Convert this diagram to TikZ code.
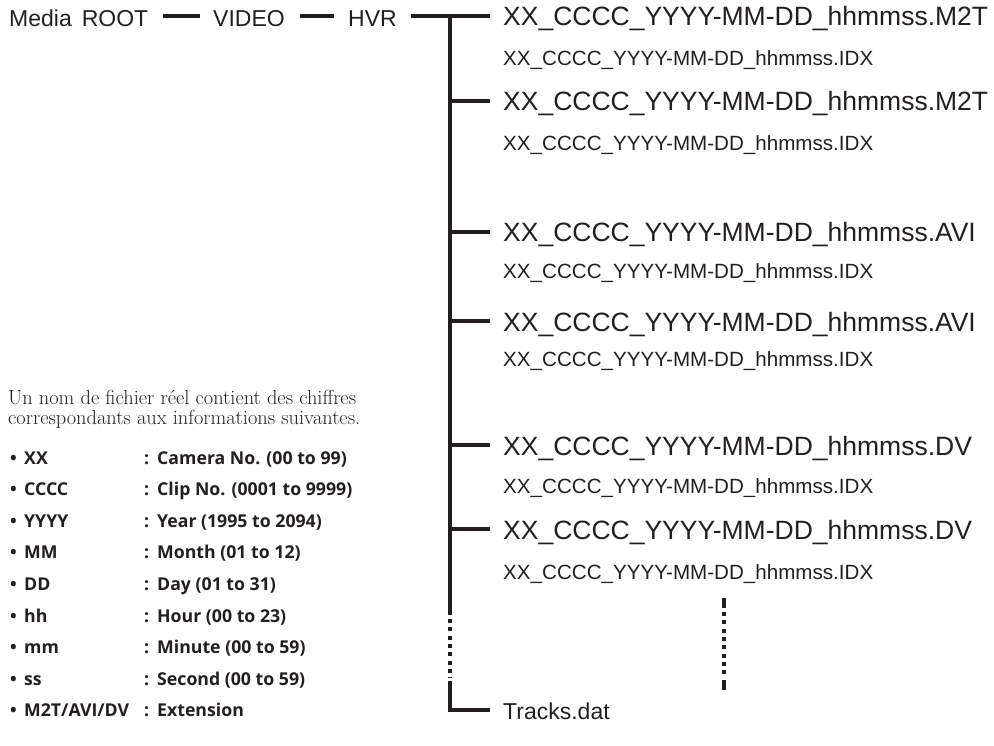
\documentclass[tikz,border=0pt]{standalone}
\usepackage{fontspec}
\newfontfamily\arialf{Liberation Sans}
\newfontfamily\listf{Open Sans}
\usetikzlibrary{calc}
\definecolor{ink}{HTML}{231F20}
\begin{document}
\begin{tikzpicture}[x=1pt,y=-1pt,
  lbl/.style={inner sep=0pt, anchor=base west, text=ink},
  toplbl/.style={lbl, font=\arialf\fontsize{23}{27}\selectfont},
  bigfile/.style={lbl, font=\arialf\fontsize{26.5}{30}\selectfont},
  smallfile/.style={lbl, font=\arialf\fontsize{20.6}{24}\selectfont},
  introtxt/.style={lbl, font=\rmfamily\fontsize{20.4}{22}\selectfont},
  listtxt/.style={lbl, font=\listf\bfseries\fontsize{17.7}{20}\selectfont},
  treeline/.style={line width=3.6pt, draw=ink},
  dashline/.style={line width=3.2pt, draw=ink},
  dotline/.style={line width=3.6pt, draw=ink, dash pattern=on 4pt off 4.3pt}]
\useasboundingbox (0,0) rectangle (994,746);

% top path
\node[toplbl] (root) at (9,27) {Media\hspace{10pt}ROOT};
\node[toplbl] (video) at (213,27) {VIDEO};
\node[toplbl] (hvr) at (348,27) {HVR};
\draw[dashline] ($(root.base east)+(15,-11)$) -- ($(video.base west)+(-13,-11)$);
\draw[dashline] ($(video.base east)+(15,-11)$) -- ($(hvr.base west)+(-14,-11)$);

% files
\node[bigfile]   (f1) at (503,26)  {XX\_CCCC\_YYYY-MM-DD\_hhmmss.M2T};
\node[smallfile] (i1) at (503,66)  {XX\_CCCC\_YYYY-MM-DD\_hhmmss.IDX};
\node[bigfile]   (f2) at (503,111) {XX\_CCCC\_YYYY-MM-DD\_hhmmss.M2T};
\node[smallfile] (i2) at (503,151) {XX\_CCCC\_YYYY-MM-DD\_hhmmss.IDX};
\node[bigfile]   (f3) at (503,242) {XX\_CCCC\_YYYY-MM-DD\_hhmmss.AVI};
\node[smallfile] (i3) at (503,279) {XX\_CCCC\_YYYY-MM-DD\_hhmmss.IDX};
\node[bigfile]   (f4) at (503,331) {XX\_CCCC\_YYYY-MM-DD\_hhmmss.AVI};
\node[smallfile] (i4) at (503,366) {XX\_CCCC\_YYYY-MM-DD\_hhmmss.IDX};
\node[bigfile]   (f5) at (503,455) {XX\_CCCC\_YYYY-MM-DD\_hhmmss.DV};
\node[smallfile] (i5) at (503,493) {XX\_CCCC\_YYYY-MM-DD\_hhmmss.IDX};
\node[bigfile]   (f6) at (503,539) {XX\_CCCC\_YYYY-MM-DD\_hhmmss.DV};
\node[smallfile] (i6) at (503,579) {XX\_CCCC\_YYYY-MM-DD\_hhmmss.IDX};
\node[toplbl]    (tracks) at (503,719) {Tracks.dat};

% tree
\coordinate (j) at (450,16);
\coordinate (dA) at (450,615);
\coordinate (dB) at (450,681);
\draw[treeline] ($(hvr.base east)+(14,-11)$) -- ($(f1.base west)+(-13,-10)$);
\draw[treeline] (j) -- (dA);
\draw[dotline] (450,619) -- (450,678);
\foreach \n in {f2,f3,f4,f5,f6}{
  \path ($(\n.base west)+(-13,-10)$) coordinate (s\n);
  \draw[treeline] (s\n) -- (s\n -| j);
}
\path ($(tracks.base west)+(-13,-9)$) coordinate (st);
\draw[treeline, line join=miter] (dB) -- (st -| j) -- (st);

% continuation marks
\coordinate (rA) at (724,598);
\coordinate (rB) at (724,690);
\draw[treeline] (rA) -- (724,608);
\draw[dotline] (724,612) -- (724,677);
\draw[treeline] (724,680) -- (rB);

% legend
\node[introtxt] (intro1) at (8,404) {Un nom de fichier réel contient des chiffres};
\node[introtxt] (intro2) at (8,424) {correspondants aux informations suivantes.};
\foreach \k/\d [count=\i] in {XX/{Camera No. (00 to 99)},
  CCCC/{Clip No. (0001 to 9999)},
  YYYY/{Year (1995 to 2094)},
  MM/{Month (01 to 12)},
  DD/{Day (01 to 31)},
  hh/{Hour (00 to 23)},
  mm/{Minute (00 to 59)},
  ss/{Second (00 to 59)},
  {M2T/AVI/DV}/{Extension}}{
  \pgfmathsetmacro\yy{464+(\i-1)*31.6}
  \node[listtxt] (b\i) at (10,\yy) {•};
  \node[listtxt] (k\i) at (24,\yy) {\k};
  \node[listtxt] (c\i) at (144,\yy) {:};
  \node[listtxt] (d\i) at (157,\yy) {\d};
}
\end{tikzpicture}
\end{document}
